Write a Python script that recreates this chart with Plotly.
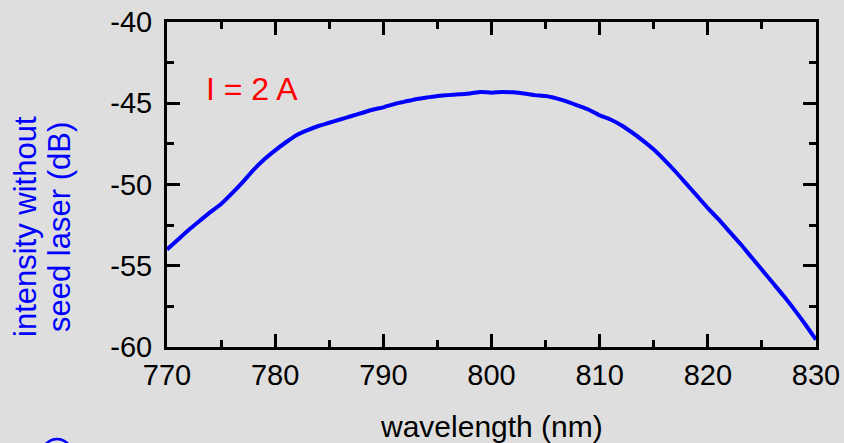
import plotly.graph_objects as go

wavelength = list(range(770, 831))
intensity = [
    -54.0, -53.4, -52.8, -52.25, -51.7, -51.2, -50.55, -49.85, -49.1, -48.45,
    -47.9, -47.4, -46.95, -46.65, -46.4, -46.2, -46.0, -45.8, -45.6, -45.4,
    -45.25, -45.05, -44.9, -44.75, -44.65, -44.55, -44.5, -44.45, -44.4, -44.3,
    -44.35, -44.3, -44.33, -44.4, -44.5, -44.55, -44.7, -44.9, -45.15, -45.4,
    -45.75, -46.0, -46.35, -46.8, -47.3, -47.85, -48.5, -49.2, -49.95, -50.7,
    -51.45, -52.15, -52.9, -53.65, -54.45, -55.25, -56.05, -56.85, -57.7, -58.6,
    -59.55,
]
x_ticks = [770, 780, 790, 800, 810, 820, 830]
x_labels = ["770", "780", "790", "800", "810", "820", "830"]
y_ticks = [-60, -55, -50, -45, -40]
y_labels = ["-60", "-55", "-50", "-45", "-40"]

BG = "#dedede"
FONT = "Liberation Sans, Arial, sans-serif"
L, R, T, B = 167, 816, 22, 347
W, H = 844, 443

def px_x(p):
    return (p - L) / (R - L)

def px_y(p):
    return (B - p) / (B - T)

fig = go.Figure()
fig.add_trace(go.Scatter(x=wavelength, y=intensity, mode="lines",
                         line=dict(color="#0000ff", width=4, shape="spline", smoothing=0.6),
                         showlegend=False))

axis_common = dict(showline=True, linewidth=3, linecolor="black", mirror="ticks",
                   ticks="inside", ticklen=13, tickwidth=3, tickcolor="black",
                   showgrid=False, zeroline=False,
                   tickfont=dict(family=FONT, size=29, color="black"))

fig.update_xaxes(range=[770, 830], tickvals=x_ticks, ticktext=x_labels,
                 minor=dict(dtick=5, ticklen=7, tickwidth=3, tickcolor="black", ticks="inside"),
                 **axis_common)
fig.update_yaxes(range=[-60, -40], tickvals=y_ticks, ticktext=y_labels,
                 ticklabelstandoff=6,
                 minor=dict(dtick=2.5, ticklen=7, tickwidth=3, tickcolor="black", ticks="inside"),
                 **axis_common)

fig.add_annotation(text="wavelength (nm)", xref="paper", yref="paper",
                   x=0.5, y=px_y(426), xanchor="center", yanchor="middle", showarrow=False,
                   font=dict(family=FONT, size=30, color="black"))
fig.add_annotation(text="I = 2 A", xref="paper", yref="paper", x=px_x(204), y=px_y(89),
                   xanchor="left", yanchor="middle", showarrow=False,
                   font=dict(family=FONT, size=32, color="#ff0000"))
for text, xc in [("intensity without", 25), ("seed laser (dB)", 59)]:
    fig.add_annotation(text=text, xref="paper", yref="paper",
                       x=px_x(xc), y=px_y(227), xanchor="center", yanchor="middle",
                       textangle=-90, showarrow=False,
                       font=dict(family=FONT, size=31, color="#0000ff"))
fig.add_shape(type="circle", xref="paper", yref="paper",
              x0=px_x(42), x1=px_x(72), y0=px_y(439), y1=px_y(469),
              line=dict(color="#0000ff", width=2.5))

fig.update_layout(width=W, height=H, paper_bgcolor=BG, plot_bgcolor=BG,
                  margin=dict(l=L, r=W - R, t=T, b=H - B, autoexpand=False),
                  font=dict(family=FONT))
fig.write_html("out.html", config={"displayModeBar": False},
               post_script="document.body.style.margin='0';document.body.style.background='#dedede';")
